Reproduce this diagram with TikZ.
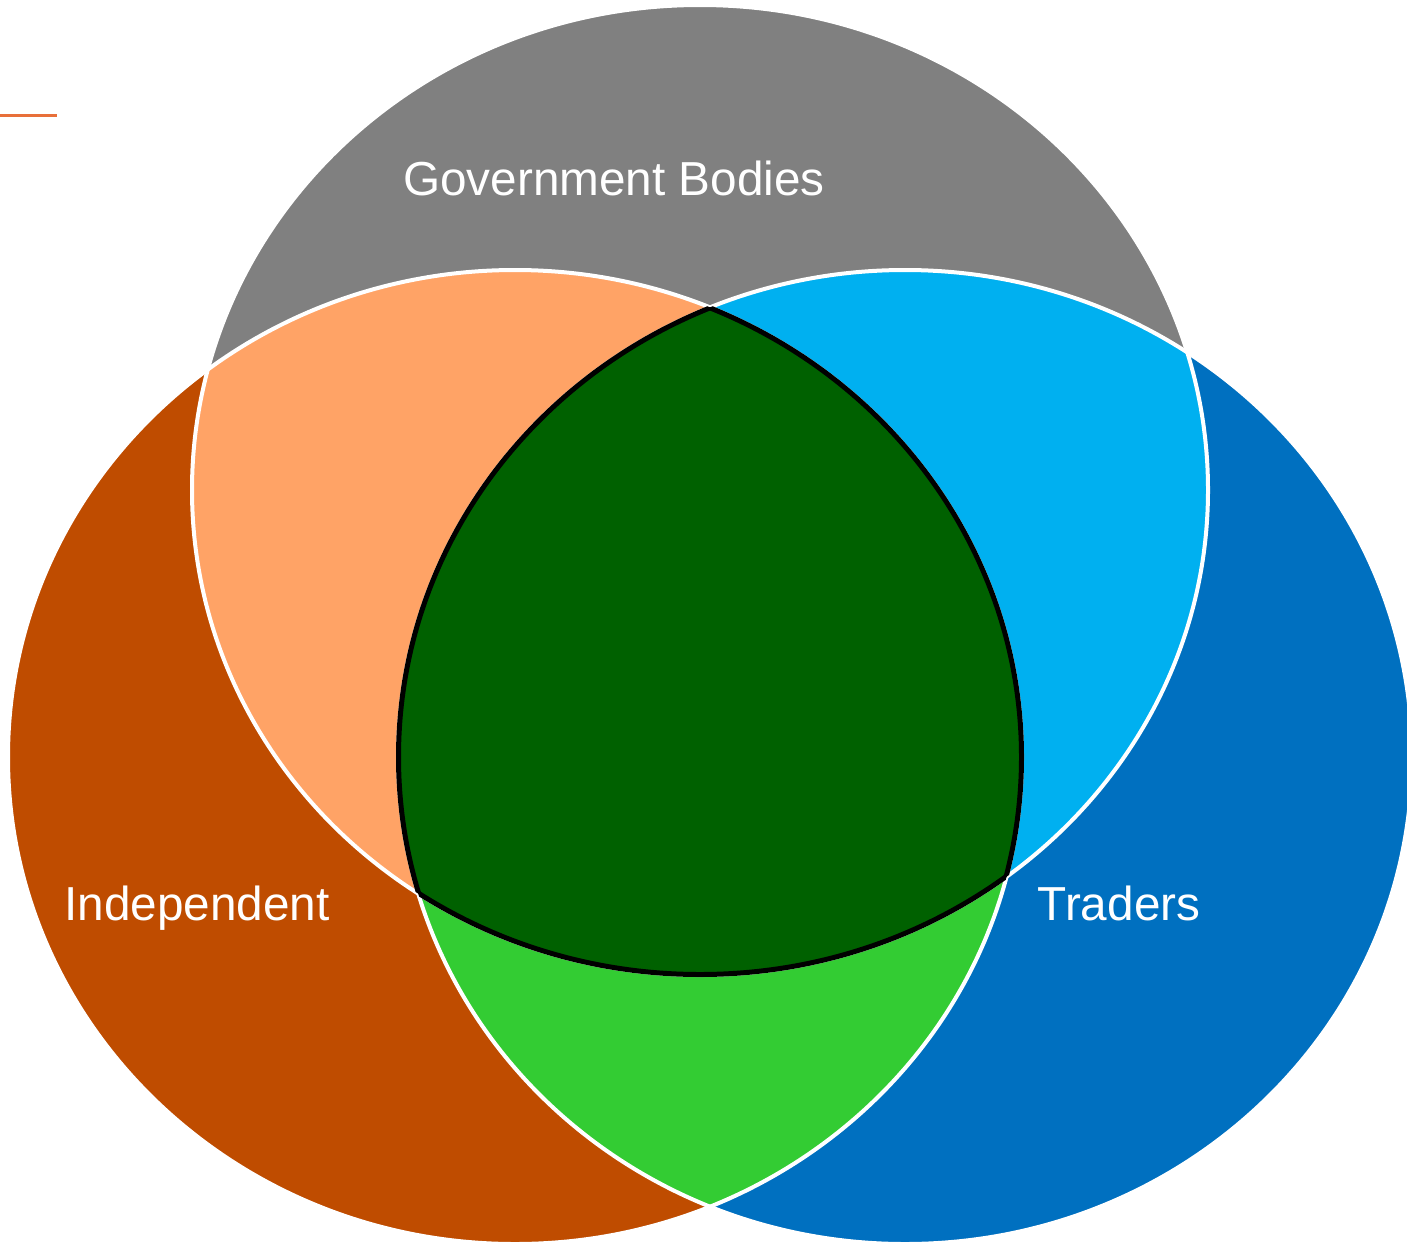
\documentclass[tikz,border=0pt]{standalone}
\usepackage{fontspec}
\setmainfont{Liberation Sans}
\definecolor{cgray}{HTML}{808080}
\definecolor{cbrown}{HTML}{BF4C00}
\definecolor{corange}{HTML}{FFA366}
\definecolor{cblue}{HTML}{0070C0}
\definecolor{clblue}{HTML}{00B0F0}
\definecolor{cgreen}{HTML}{33CC33}
\definecolor{cdkgreen}{HTML}{006100}
\definecolor{cline}{HTML}{E8703A}
\tikzset{
  sep/.style={white, line width=4pt},
  core/.style={black, line width=4pt},
  lbl/.style={text=white, font=\fontsize{47.7}{56}\selectfont, inner sep=0pt, anchor=base}
}
\begin{document}
\begin{tikzpicture}[x=1pt,y=-1pt]
\useasboundingbox (0,0) rectangle (1407,1245);
\def\gov{(700,490) ellipse [x radius=508pt, y radius=485pt]}
\def\ind{(515,757) ellipse [x radius=507pt, y radius=487pt]}
\def\tra{(905,757) ellipse [x radius=507pt, y radius=487pt]}
% base ellipses
\fill[cgray] \gov;
\fill[cbrown] \ind;
\fill[cblue] \tra;
% pairwise overlaps
\begin{scope}\clip \gov; \fill[corange] \ind; \end{scope}
\begin{scope}\clip \gov; \fill[clblue] \tra; \end{scope}
\begin{scope}\clip \ind; \fill[cgreen] \tra; \end{scope}
% white separators
\draw[sep] \gov;
\draw[sep] \ind;
\draw[sep] \tra;
% triple overlap
\begin{scope}\clip \gov; \clip \ind; \clip \tra; \fill[cdkgreen] \tra;
  \draw[black, line width=6pt] \gov; \draw[black, line width=6pt] \ind; \draw[black, line width=6pt] \tra;
\end{scope}
\begin{scope}\clip \ind; \clip \tra; \draw[core] \gov; \end{scope}
\begin{scope}\clip \gov; \clip \tra; \draw[core] \ind; \end{scope}
\begin{scope}\clip \gov; \clip \ind; \draw[core] \tra; \end{scope}
% small orange mark
\coordinate (m1) at (0,115);
\coordinate (m2) at (57,115);
\draw[cline, line width=3pt] (m1) -- (m2);
% labels
\node[lbl] (govt) at (614,195) {Government Bodies};
\node[lbl] (indep) at (197,920) {Independent};
\node[lbl] (trad) at (1119,920) {Traders};
\end{tikzpicture}
\end{document}
